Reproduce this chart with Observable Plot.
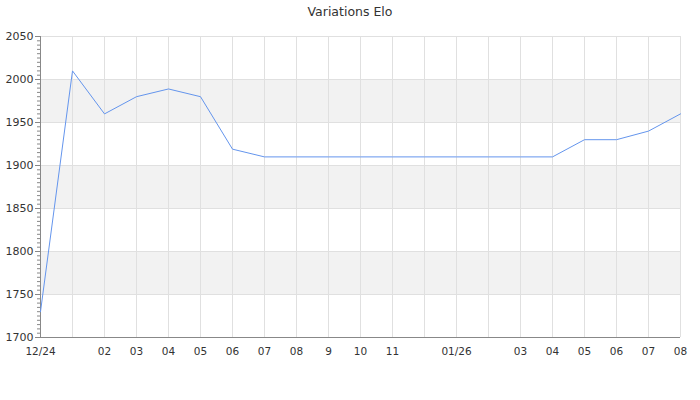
<!DOCTYPE html>
<html>
<head>
<meta charset="utf-8">
<script src="https://cdn.jsdelivr.net/npm/d3@7"></script>
<script src="https://cdn.jsdelivr.net/npm/@observablehq/plot@0.6"></script>
<style>
  body { margin: 0; background: #fff; font-family: "DejaVu Sans", sans-serif; }
  #title { height: 24px; line-height: 24px; text-align: center; font-size: 12.5px; color: #333; }
</style>
</head>
<body>
<div id="title">Variations Elo</div>
<div id="chart"></div>
<script>
// months, from 12/24 to 08/26
const months = ["2024-12", "2025-01", "2025-02", "2025-03", "2025-04", "2025-05", "2025-06",
  "2025-07", "2025-08", "2025-09", "2025-10", "2025-11", "2025-12", "2026-01", "2026-02",
  "2026-03", "2026-04", "2026-05", "2026-06", "2026-07", "2026-08"];
const elo = [1730, 2010, 1960, 1980, 1989, 1980, 1919, 1910, 1910, 1910, 1910, 1910, 1910,
  1910, 1910, 1910, 1910, 1930, 1930, 1940, 1960];
const tickLabels = ["12/24", "", "02", "03", "04", "05", "06", "07", "08", "9", "10", "11", "",
  "01/26", "", "03", "04", "05", "06", "07", "08"];
const bandLo = [1750, 1850, 1950];
const bandHi = [1800, 1900, 2000];
const yTicks = [1700, 1750, 1800, 1850, 1900, 1950, 2000, 2050];

const data = months.map((m, i) => ({month: m, elo: elo[i]}));
const bands = bandLo.map((lo, i) => ({lo, hi: bandHi[i]}));

let chart = Plot.plot({
  width: 700,
  height: 376,
  marginTop: 12,
  marginBottom: 63,
  marginLeft: 40,
  marginRight: 20,
  style: {
    fontFamily: "DejaVu Sans",
    fontSize: "10.5px",
    color: "#333",
  },
  x: { type: "point", domain: months, padding: 0, label: null },
  y: { domain: [1700, 2050], label: null },
  marks: [
    Plot.rect(bands, { y1: "lo", y2: "hi", fill: "#f2f2f2" }),
    Plot.gridX(months, { stroke: "#e0e0e0", strokeOpacity: 1 }),
    Plot.gridY(yTicks, { stroke: "#e0e0e0", strokeOpacity: 1 }),
    Plot.axisY(d3.range(1700, 2051, 5), { tickSize: 3, tickFormat: () => "", stroke: "#888" }),
    Plot.axisY(yTicks, { tickSize: 5, tickPadding: 2, tickFormat: d => String(d), stroke: "#888", fill: "#333", fontSize: 11 }),
    Plot.axisX(months, { tickSize: 0, tickPadding: 10, tickFormat: d => tickLabels[months.indexOf(d)], fill: "#333" }),
    Plot.ruleX([months[0]], { stroke: "#888" }),
    Plot.ruleY([1700], { stroke: "#888" }),
    Plot.line(data, { x: "month", y: "elo", stroke: "#6495ed", strokeWidth: 1 }),
  ],
});
d3.select("#chart").append(() => chart);
</script>
</body>
</html>
